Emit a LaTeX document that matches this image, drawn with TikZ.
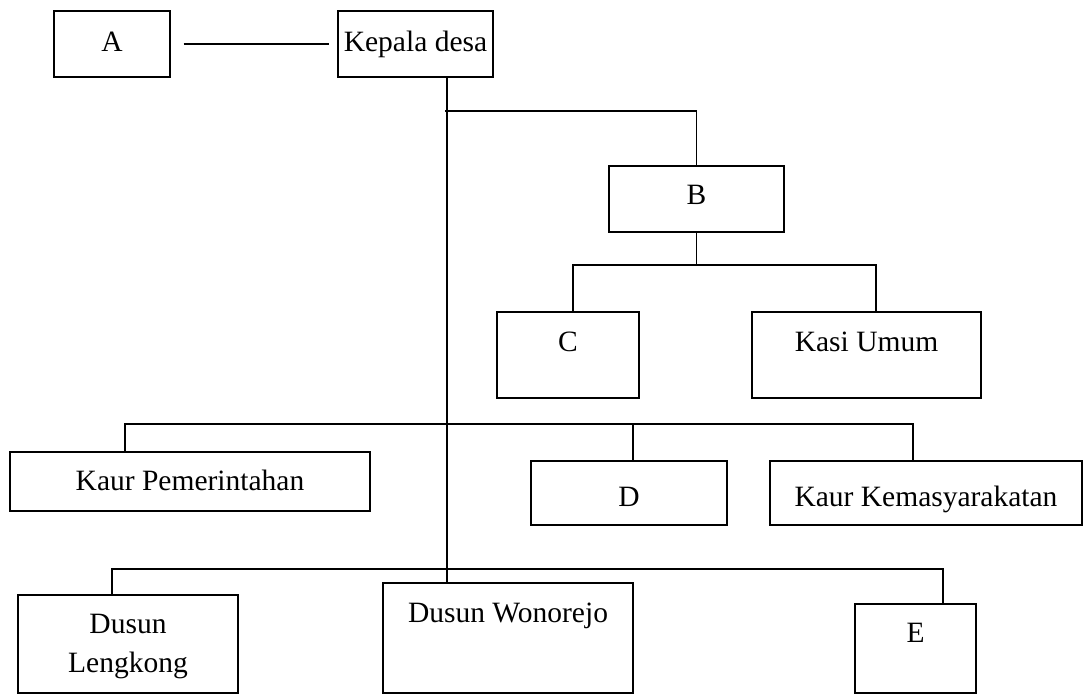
\documentclass[tikz,border=0pt]{standalone}
\usepackage{fontspec}
\setmainfont{Liberation Serif}
\begin{document}
\begin{tikzpicture}[x=1pt,y=-1pt,
  box/.style={draw,line width=1.3pt,rectangle,inner sep=0pt},
  lbl/.style={anchor=base,inner sep=0pt,font=\fontsize{29.5}{40}\selectfont},
  conn/.style={line width=1.2pt}]
\useasboundingbox (0,0) rectangle (1084,694);
% boxes
\node[box,minimum width=116pt,minimum height=66pt] (A) at (112,44) {};
\node[box,minimum width=155pt,minimum height=66pt] (K) at (415.5,44) {};
\node[box,minimum width=175pt,minimum height=66pt] (B) at (696.5,199) {};
\node[box,minimum width=142pt,minimum height=86pt] (C) at (568,355) {};
\node[box,minimum width=229pt,minimum height=86pt] (KU) at (866.5,355) {};
\node[box,minimum width=360pt,minimum height=59pt] (KP) at (190,481.5) {};
\node[box,minimum width=312pt,minimum height=64pt] (KK) at (926,493) {};
\node[box,minimum width=196pt,minimum height=64pt] (D) at (629,493) {};
\node[box,minimum width=220pt,minimum height=98pt] (L) at (128,644) {};
\node[box,minimum width=250pt,minimum height=110pt] (W) at (508,638) {};
\node[box,minimum width=121pt,minimum height=89pt] (E) at (915.5,648.5) {};
% labels
\node[lbl] (tA) at (112,51) {A};
\node[lbl] (tK) at (415.5,51) {Kepala desa};
\node[lbl] (tB) at (696.5,204) {B};
\node[lbl] (tC) at (568,351) {C};
\node[lbl] (tKU) at (866.5,351) {Kasi Umum};
\node[lbl] (tKP) at (190,490) {Kaur Pemerintahan};
\node[lbl] (tD) at (629,506) {D};
\node[lbl] (tKK) at (926,506) {Kaur Kemasyarakatan};
\node[lbl] (tL1) at (128,633) {Dusun};
\node[lbl] (tL2) at (128,672) {Lengkong};
\node[lbl] (tW) at (508,622) {Dusun Wonorejo};
\node[lbl] (tE) at (915.5,642) {E};
% helper coordinates
\coordinate (t) at (447,77);
\coordinate (j1) at (445,111);
\coordinate (h1) at (0,265);
\coordinate (h2) at (0,424);
\coordinate (h3) at (0,569);
% connectors
\draw[conn] ([xshift=13pt]A.east) -- ([xshift=-8pt]K.west);
\draw[conn] (t) -- (t |- W.north);
\draw[conn] (j1) -| (B.north);
\draw[conn] (B.south) -- (B.south |- h1);
\draw[conn] ([xshift=5pt]C.north) |- ([xshift=9.5pt]KU.north |- h1) -- ([xshift=9.5pt]KU.north);
\draw[conn] ([xshift=-65pt]KP.north) |- ([xshift=-13pt]KK.north |- h2) -- ([xshift=-13pt]KK.north);
\draw[conn] ([xshift=4pt]D.north) -- ([xshift=4pt]D.north |- h2);
\draw[conn] ([xshift=-16pt]L.north) |- ([xshift=27.5pt]E.north |- h3) -- ([xshift=27.5pt]E.north);
\end{tikzpicture}
\end{document}
